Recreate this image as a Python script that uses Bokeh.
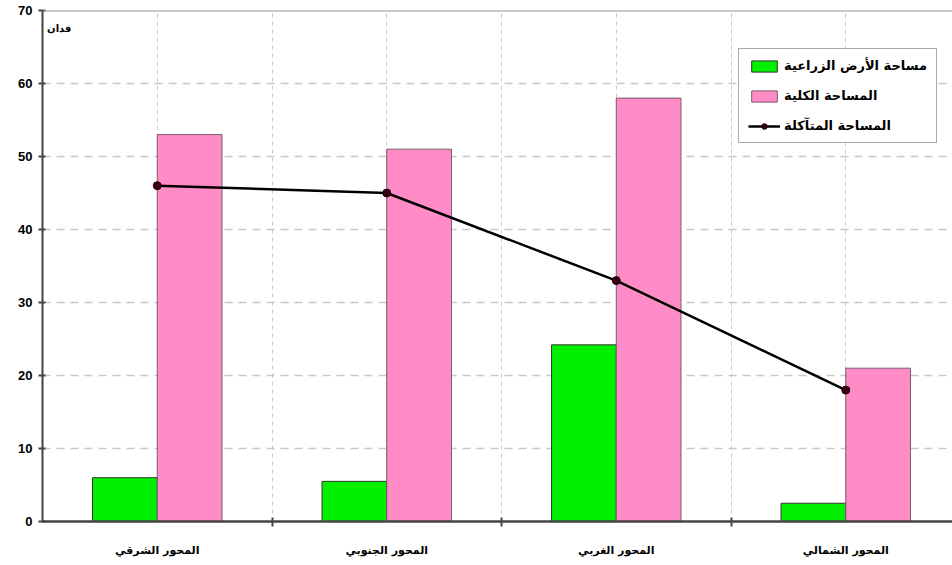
from bokeh.plotting import figure
from bokeh.models import (Range1d, FixedTicker, Legend, LegendItem, Label, Span,
                          ColumnDataSource)
from bokeh.embed import file_html
from bokeh.resources import INLINE

# Data: areas per axis (feddan)
categories = ["المحور الشرقي", "المحور الجنوبي", "المحور الغربي", "المحور الشمالي"]
agri_land = [6.0, 5.5, 24.2, 2.5]        # مساحة الأرض الزراعية
total_area = [53, 51, 58, 21]            # المساحة الكلية
eroded_area = [46, 45, 33, 18]           # المساحة المتآكلة
y_ticks = [0, 10, 20, 30, 40, 50, 60, 70]

ARABIC = "DejaVu Sans"
NUM = "Liberation Sans"

centers = [i + 0.5 for i in range(len(categories))]
bar_w = 0.282
src = ColumnDataSource(dict(
    xg=[c - bar_w / 2 for c in centers],
    xp=[c + bar_w / 2 for c in centers],
    xc=centers,
    agri=agri_land, total=total_area, eroded=eroded_area,
))

p = figure(width=952, height=565, output_backend="svg", toolbar_location=None,
           x_range=Range1d(0, 3.965), y_range=Range1d(0, 70),
           min_border_left=42, min_border_right=0, min_border_top=10,
           min_border_bottom=44)
p.outline_line_color = None
p.background_fill_color = "white"

# Grid
p.xgrid.ticker = FixedTicker(ticks=[0.5, 1, 1.5, 2, 2.5, 3, 3.5])
p.xgrid.grid_line_color = "#c8c8c8"
p.xgrid.grid_line_dash = "4 4"
p.xgrid.grid_line_width = 1
p.ygrid.ticker = FixedTicker(ticks=[10, 20, 30, 40, 50, 60])
p.ygrid.grid_line_color = "#c8c8c8"
p.ygrid.grid_line_dash = "8 6"
p.ygrid.grid_line_width = 1.5
p.add_layout(Span(location=70, dimension="width", line_color="#9a9a9a", line_width=2))

# Bars
r_agri = p.vbar(x="xg", top="agri", width=bar_w, source=src, fill_color="#00f000",
                line_color="#333333", line_width=1)
r_total = p.vbar(x="xp", top="total", width=bar_w, source=src, fill_color="#ff8cc6",
                 line_color="#7a5a6a", line_width=1)

# Line
r_line = p.line(x="xc", y="eroded", source=src, line_color="black", line_width=2.5)
r_pts = p.scatter(x="xc", y="eroded", source=src, size=8, fill_color="#3a0010",
                  line_color="#1a0008")

# Axes
p.yaxis.ticker = FixedTicker(ticks=y_ticks)
p.yaxis.axis_line_color = "#444444"
p.yaxis.axis_line_width = 2
p.yaxis.major_tick_line_color = "#444444"
p.yaxis.major_tick_line_width = 2
p.yaxis.major_tick_out = 4
p.yaxis.major_tick_in = 3
p.yaxis.minor_tick_line_color = None
p.yaxis.major_label_text_font = NUM
p.yaxis.major_label_text_font_style = "bold"
p.yaxis.major_label_text_font_size = "13px"
p.yaxis.major_label_text_color = "black"
p.yaxis.major_label_standoff = 6

p.xaxis.ticker = FixedTicker(ticks=centers, minor_ticks=[1, 2, 3])
p.xaxis.major_label_overrides = {c: name for c, name in zip(centers, categories)}
p.xaxis.axis_line_color = "#444444"
p.xaxis.axis_line_width = 2.5
p.xaxis.major_tick_line_color = None
p.xaxis.minor_tick_line_color = "#444444"
p.xaxis.minor_tick_line_width = 2
p.xaxis.minor_tick_in = 4
p.xaxis.minor_tick_out = 5
p.xaxis.major_label_text_font = ARABIC
p.xaxis.major_label_text_font_style = "bold"
p.xaxis.major_label_text_font_size = "11px"
p.xaxis.major_label_text_color = "black"
p.xaxis.major_label_standoff = 16

# Unit label
p.add_layout(Label(x=0.02, y=68.3, text="فدان", text_font=ARABIC,
                   text_font_style="bold", text_font_size="10px",
                   text_color="black", text_baseline="top"))

# Legend
legend = Legend(items=[
    LegendItem(label="مساحة الأرض الزراعية", renderers=[r_agri]),
    LegendItem(label="المساحة الكلية", renderers=[r_total]),
    LegendItem(label="المساحة المتآكلة", renderers=[r_line, r_pts]),
], location=(696, 378))
legend.label_text_font = ARABIC
legend.label_text_font_style = "bold"
legend.label_text_font_size = "13px"
legend.label_text_color = "black"
legend.glyph_width = 32
legend.glyph_height = 14
legend.label_height = 14
legend.spacing = 15
legend.padding = 9
legend.margin = 0
legend.label_standoff = 4
legend.border_line_color = "#555555"
legend.border_line_width = 1.5
legend.background_fill_color = "white"
legend.background_fill_alpha = 1
p.add_layout(legend)

open("out.html", "w").write(file_html(p, INLINE))
